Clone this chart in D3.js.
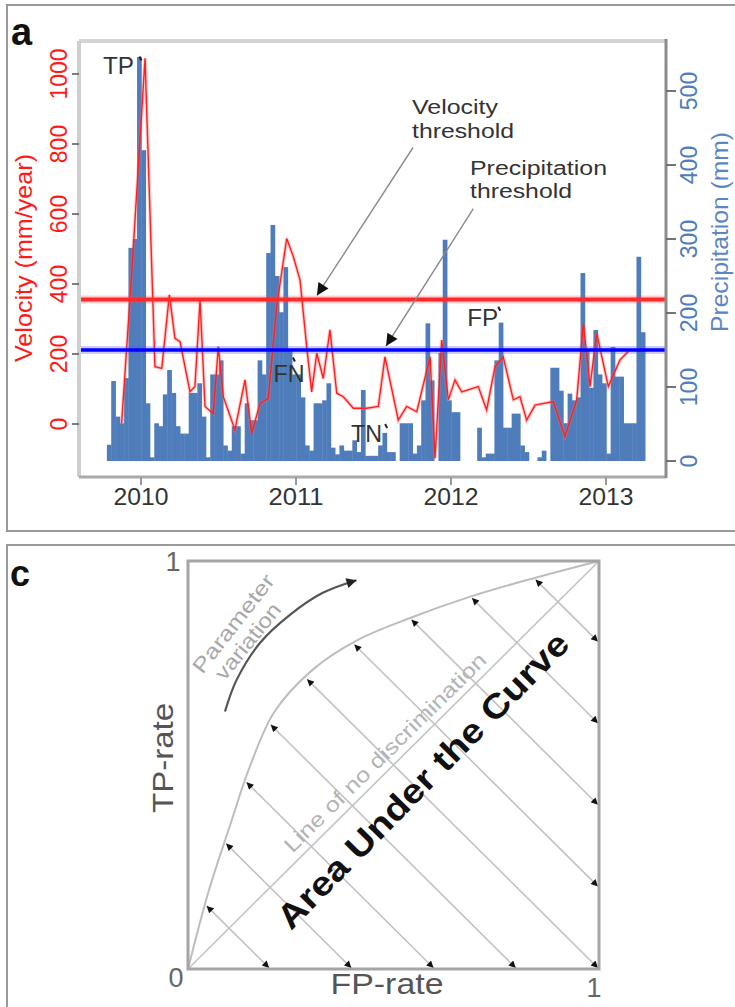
<!DOCTYPE html>
<html>
<head>
<meta charset="utf-8">
<script src="https://cdn.jsdelivr.net/npm/d3@7"></script>
<style>
  body { margin: 0; background: #fff; }
  text { font-family: "Liberation Sans", Arial, sans-serif; }
</style>
</head>
<body>
<svg id="fig" width="735" height="1007"></svg>
<script>
// ---- panel a data ----
// precipitation per dekad (mm), first dekad starts at precipStart
var precipStart = 2009.78;
var precip = [22,108,60,51,112,288,300,546,420,78,
  5,51,47,90,123,92,47,37,37,92,
  92,105,60,5,117,117,136,21,14,47,
  47,10,78,55,55,136,117,281,319,250,
  201,262,150,117,117,86,21,14,78,78,
  82,105,18,9,21,14,14,28,12,96,
  7,7,7,21,38,12,12,0,51,51,
  51,10,21,82,186,109,0,146,299,82,
  66,66,0,0,0,0,45,5,10,10,
  136,187,45,45,64,64,21,12,0,0,
  5,14,0,126,126,95,51,91,82,86,
  254,150,99,177,117,105,10,154,114,114,
  51,51,51,276,174];

var velDates = [2009.875,2009.940,2010.026,2010.090,2010.134,2010.183,2010.219,2010.252,2010.316,2010.348,
  2010.381,2010.413,2010.466,2010.499,2010.531,2010.606,2010.671,2010.714,2010.768,2010.821,
  2010.875,2010.940,2010.983,2011.026,2011.069,2011.101,2011.134,2011.176,2011.219,2011.263,
  2011.305,2011.370,2011.456,2011.531,2011.574,2011.660,2011.714,2011.779,2011.865,2011.897,
  2011.940,2011.983,2012.026,2012.069,2012.176,2012.230,2012.284,2012.337,2012.402,2012.445,
  2012.488,2012.542,2012.660,2012.735,2012.811,2012.854,2012.897,2012.940,2013.015,2013.090,
  2013.144];
var velValues = [2,430,1045,164,159,369,245,235,92,107,
  354,50,30,221,78,-17,126,-27,59,73,
  335,530,478,411,221,92,202,130,269,88,
  78,45,45,50,192,11,50,35,192,-98,
  240,69,126,92,107,40,164,192,69,78,
  11,54,64,-36,69,288,107,259,107,183,
  207];

var velThreshold = 356;
var precipThreshold = 150;
var velTicks = [0, 200, 400, 600, 800, 1000];
var precipTicks = [0, 100, 200, 300, 400, 500];
var yearTicks = [2010, 2011, 2012, 2013];

// ---- panel c data ----
var rocFP = [0, 0.05, 0.10, 0.15, 0.21, 0.305, 0.41, 0.545, 0.685, 0.82, 1];
var rocTP = [0, 0.19, 0.345, 0.495, 0.63, 0.735, 0.805, 0.862, 0.912, 0.952, 1];
var aucLevels = [0.2, 0.4, 0.6, 0.8, 1.0, 1.2, 1.4, 1.6, 1.8];
var rocTicks = ["0", "1"];

var svg = d3.select("#fig");
var defs = svg.append("defs");

defs.append("marker").attr("id", "bigHead")
  .attr("viewBox", "0 0 10 10").attr("refX", 10).attr("refY", 5)
  .attr("markerUnits", "userSpaceOnUse").attr("markerWidth", 16).attr("markerHeight", 12)
  .attr("orient", "auto")
  .append("path").attr("d", "M0,0 L10,5 L0,10 z").attr("fill", "#111");

defs.append("marker").attr("id", "smallHead")
  .attr("viewBox", "0 0 10 10").attr("refX", 10).attr("refY", 5)
  .attr("markerUnits", "userSpaceOnUse").attr("markerWidth", 9).attr("markerHeight", 7)
  .attr("orient", "auto-start-reverse")
  .append("path").attr("d", "M0,0 L10,5 L0,10 z").attr("fill", "#111");

defs.append("marker").attr("id", "arcHead")
  .attr("viewBox", "0 0 10 10").attr("refX", 10).attr("refY", 5)
  .attr("markerUnits", "userSpaceOnUse").attr("markerWidth", 14).attr("markerHeight", 10)
  .attr("orient", "auto")
  .append("path").attr("d", "M0,0 L10,5 L0,10 z").attr("fill", "#222");

// panel frames
svg.append("rect").attr("x", 7).attr("y", 5).attr("width", 760).attr("height", 526)
  .attr("fill", "none").attr("stroke", "#9a9a9a").attr("stroke-width", 2);
svg.append("rect").attr("x", 7).attr("y", 545).attr("width", 760).attr("height", 480)
  .attr("fill", "none").attr("stroke", "#9a9a9a").attr("stroke-width", 2);

svg.append("text").attr("x", 11).attr("y", 45).attr("font-size", 38)
  .attr("font-weight", "bold").attr("fill", "#111").text("a");
svg.append("text").attr("x", 10).attr("y", 586).attr("font-size", 36)
  .attr("font-weight", "bold").attr("fill", "#111").text("c");

// ===== panel a =====
var x = d3.scaleLinear().domain([2010, 2013]).range([141, 606]);
var yVel = d3.scaleLinear().domain([0, 1000]).range([424, 74]);
var yPre = d3.scaleLinear().domain([0, 500]).range([461, 91]);
var box = {l: 79, r: 666, t: 41, b: 477};
var dekad = 1 / 36;

var ga = svg.append("g");

// precipitation bars
ga.append("g").selectAll("rect").data(precip).join("rect")
  .attr("x", function(d, i) { return x(precipStart + i * dekad); })
  .attr("width", x(precipStart + dekad) - x(precipStart) + 0.4)
  .attr("y", function(d) { return yPre(d); })
  .attr("height", function(d) { return yPre(0) - yPre(d); })
  .attr("fill", "#4f7cba");

// velocity line
var velLine = d3.line()
  .x(function(d, i) { return x(velDates[i]); })
  .y(function(d) { return yVel(d); });
ga.append("path").datum(velValues).attr("d", velLine)
  .attr("fill", "none").attr("stroke", "#ff6b6b").attr("stroke-width", 3.5).attr("opacity", 0.35);
ga.append("path").datum(velValues).attr("d", velLine)
  .attr("fill", "none").attr("stroke", "#ff1f1f").attr("stroke-width", 1.4);

// thresholds
ga.append("line").attr("x1", box.l).attr("x2", box.r)
  .attr("y1", yVel(velThreshold)).attr("y2", yVel(velThreshold))
  .attr("stroke", "#ff4444").attr("stroke-width", 8).attr("opacity", 0.25);
ga.append("line").attr("x1", box.l).attr("x2", box.r)
  .attr("y1", yVel(velThreshold)).attr("y2", yVel(velThreshold))
  .attr("stroke", "#ff2a2a").attr("stroke-width", 4);
ga.append("line").attr("x1", box.l).attr("x2", box.r)
  .attr("y1", yPre(precipThreshold)).attr("y2", yPre(precipThreshold))
  .attr("stroke", "#5555ff").attr("stroke-width", 8).attr("opacity", 0.3);
ga.append("line").attr("x1", box.l).attr("x2", box.r)
  .attr("y1", yPre(precipThreshold)).attr("y2", yPre(precipThreshold))
  .attr("stroke", "#0000ff").attr("stroke-width", 3.5);

// box
ga.append("line").attr("x1", box.l).attr("x2", box.r).attr("y1", box.t).attr("y2", box.t)
  .attr("stroke", "#d4d4d4").attr("stroke-width", 4);
ga.append("line").attr("x1", box.l).attr("x2", box.l).attr("y1", box.t).attr("y2", box.b)
  .attr("stroke", "#cfcfcf").attr("stroke-width", 4);
ga.append("line").attr("x1", box.l).attr("x2", box.r).attr("y1", box.b).attr("y2", box.b)
  .attr("stroke", "#aaaaaa").attr("stroke-width", 3);
ga.append("line").attr("x1", box.r).attr("x2", box.r).attr("y1", box.t - 2).attr("y2", box.b + 1)
  .attr("stroke", "#8c8c8c").attr("stroke-width", 3);

// left axis (velocity)
ga.append("g").selectAll("line").data(velTicks).join("line")
  .attr("x1", box.l - 7).attr("x2", box.l).attr("y1", function(d) { return yVel(d); })
  .attr("y2", function(d) { return yVel(d); }).attr("stroke", "#555").attr("stroke-width", 1.5);
ga.append("g").selectAll("text").data(velTicks).join("text")
  .attr("transform", function(d) { return "translate(67," + yVel(d) + ") rotate(-90)"; })
  .attr("text-anchor", "middle").attr("font-size", 23).attr("fill", "#ff1a1a")
  .text(function(d) { return d; });
ga.append("text").attr("transform", "translate(32,258) rotate(-90)")
  .attr("text-anchor", "middle").attr("font-size", 24).attr("fill", "#ff1a1a")
  .attr("textLength", 208).attr("lengthAdjust", "spacingAndGlyphs")
  .text("Velocity (mm/year)");

// right axis (precipitation)
ga.append("g").selectAll("line").data(precipTicks).join("line")
  .attr("x1", box.r).attr("x2", box.r + 10).attr("y1", function(d) { return yPre(d); })
  .attr("y2", function(d) { return yPre(d); }).attr("stroke", "#666").attr("stroke-width", 1.8);
ga.append("g").selectAll("text").data(precipTicks).join("text")
  .attr("transform", function(d) { return "translate(697," + yPre(d) + ") rotate(-90)"; })
  .attr("text-anchor", "middle").attr("font-size", 23).attr("fill", "#4f7cba")
  .text(function(d) { return d; });
ga.append("text").attr("transform", "translate(728,232) rotate(-90)")
  .attr("text-anchor", "middle").attr("font-size", 24).attr("fill", "#5a86c4")
  .attr("textLength", 200).attr("lengthAdjust", "spacingAndGlyphs")
  .text("Precipitation (mm)");

// bottom axis (years)
ga.append("g").selectAll("line").data(yearTicks).join("line")
  .attr("x1", function(d) { return x(d); }).attr("x2", function(d) { return x(d); })
  .attr("y1", box.b).attr("y2", box.b + 8).attr("stroke", "#999").attr("stroke-width", 2);
ga.append("g").selectAll("text").data(yearTicks).join("text")
  .attr("x", function(d) { return x(d); }).attr("y", 505)
  .attr("text-anchor", "middle").attr("font-size", 23).attr("fill", "#333")
  .attr("textLength", 55).attr("lengthAdjust", "spacingAndGlyphs")
  .text(function(d) { return d; });

// event labels
var events = [
  {txt: "TP", t: 2009.755, v: 1000, mt: 2009.99, mv: 1050},
  {txt: "FN", t: 2010.855, v: 120, mt: 2010.98, mv: 190},
  {txt: "TN", t: 2011.355, v: -50, mt: 2011.575, mv: 0},
  {txt: "FP", t: 2012.105, v: 280, mt: 2012.305, mv: 335}
];
ga.append("g").selectAll("text").data(events).join("text")
  .attr("x", function(d) { return x(d.t); }).attr("y", function(d) { return yVel(d.v); })
  .attr("font-size", 23).attr("fill", "#333")
  .attr("textLength", 31).attr("lengthAdjust", "spacingAndGlyphs")
  .text(function(d) { return d.txt; });
ga.append("g").selectAll("line").data(events).join("line")
  .attr("x1", function(d) { return x(d.mt); }).attr("y1", function(d) { return yVel(d.mv); })
  .attr("x2", function(d) { return x(d.mt) + 2; }).attr("y2", function(d) { return yVel(d.mv) + 4; })
  .attr("stroke", "#222").attr("stroke-width", 2);

// threshold annotations
var annot = ga.append("g").attr("font-size", 20).attr("fill", "#333");
annot.append("text").attr("x", 412).attr("y", 114)
  .attr("textLength", 86).attr("lengthAdjust", "spacingAndGlyphs").text("Velocity");
annot.append("text").attr("x", 412).attr("y", 138)
  .attr("textLength", 102).attr("lengthAdjust", "spacingAndGlyphs").text("threshold");
annot.append("text").attr("x", 470).attr("y", 175)
  .attr("textLength", 137).attr("lengthAdjust", "spacingAndGlyphs").text("Precipitation");
annot.append("text").attr("x", 470).attr("y", 198)
  .attr("textLength", 102).attr("lengthAdjust", "spacingAndGlyphs").text("threshold");

ga.append("line")
  .attr("x1", x(2011.755)).attr("y1", yVel(790))
  .attr("x2", x(2011.135)).attr("y2", yVel(velThreshold) - 4)
  .attr("stroke", "#8a8a8a").attr("stroke-width", 1.4).attr("marker-end", "url(#bigHead)");
ga.append("line")
  .attr("x1", x(2012.144)).attr("y1", yPre(341))
  .attr("x2", x(2011.581)).attr("y2", yPre(precipThreshold) - 4)
  .attr("stroke", "#8a8a8a").attr("stroke-width", 1.4).attr("marker-end", "url(#bigHead)");

// ===== panel c =====
var fx = d3.scaleLinear().domain([0, 1]).range([188, 599]);
var fy = d3.scaleLinear().domain([0, 1]).range([969, 561]);
var gc = svg.append("g");

// diagonal
gc.append("line").attr("x1", fx(0)).attr("y1", fy(0)).attr("x2", fx(1)).attr("y2", fy(1))
  .attr("stroke", "#c4c4c4").attr("stroke-width", 1.6);

// ROC curve
var roc = rocFP.map(function(d, i) { return [d, rocTP[i]]; });
gc.append("path").datum(roc)
  .attr("d", d3.line().x(function(d) { return fx(d[0]); }).y(function(d) { return fy(d[1]); })
    .curve(d3.curveCatmullRom.alpha(0.5)))
  .attr("fill", "none").attr("stroke", "#bdbdbd").attr("stroke-width", 2);

// AUC arrows: lines FP+TP = c from the curve to the border
function curveHit(c) {
  for (var i = 0; i < roc.length - 1; i++) {
    var s0 = roc[i][0] + roc[i][1], s1 = roc[i + 1][0] + roc[i + 1][1];
    if (c >= s0 && c <= s1) {
      var f = (c - s0) / (s1 - s0);
      return [roc[i][0] + f * (roc[i + 1][0] - roc[i][0]), roc[i][1] + f * (roc[i + 1][1] - roc[i][1])];
    }
  }
  return roc[roc.length - 1];
}
gc.append("g").selectAll("line").data(aucLevels).join("line")
  .each(function(c) {
    var p = curveHit(c);
    var q = c <= 1 ? [c, 0] : [1, c - 1];
    d3.select(this)
      .attr("x1", fx(p[0]) + 1.5).attr("y1", fy(p[1]) + 1.5)
      .attr("x2", fx(q[0]) - 1).attr("y2", fy(q[1]) - 1);
  })
  .attr("stroke", "#c2c2c2").attr("stroke-width", 1.6)
  .attr("marker-start", "url(#smallHead)").attr("marker-end", "url(#smallHead)");

// box
gc.append("rect").attr("x", fx(0)).attr("y", fy(1)).attr("width", fx(1) - fx(0)).attr("height", fy(0) - fy(1))
  .attr("fill", "none").attr("stroke", "#a5a5a5").attr("stroke-width", 3);

// parameter variation arc
var arcPts = [[0.090, 0.631], [0.118, 0.708], [0.175, 0.799], [0.248, 0.868], [0.328, 0.922], [0.410, 0.953]];
gc.append("path").datum(arcPts)
  .attr("d", d3.line().x(function(d) { return fx(d[0]); }).y(function(d) { return fy(d[1]); })
    .curve(d3.curveCatmullRom))
  .attr("fill", "none").attr("stroke", "#555").attr("stroke-width", 2.2)
  .attr("marker-end", "url(#arcHead)");

function rotText(g, fxv, fyv, ang, txt, size, len, fill, weight) {
  return g.append("text")
    .attr("transform", "translate(" + fx(fxv) + "," + fy(fyv) + ") rotate(" + ang + ")")
    .attr("text-anchor", "middle").attr("dominant-baseline", "central")
    .attr("font-size", size).attr("fill", fill).attr("font-weight", weight || "normal")
    .attr("textLength", len).attr("lengthAdjust", "spacingAndGlyphs")
    .text(txt);
}
rotText(gc, 0.110, 0.847, -52, "Parameter", 21, 119, "#a8a8a8");
rotText(gc, 0.145, 0.804, -51, "variation", 21, 92, "#a8a8a8");
rotText(gc, 0.479, 0.531, -44.5, "Line of no discrimination", 21, 274, "#b3b3b3");
rotText(gc, 0.571, 0.463, -45.5, "Area Under the Curve", 34, 400, "#111", "bold");

// axis labels
gc.append("text").attr("x", 173).attr("y", 571).attr("text-anchor", "middle")
  .attr("font-size", 27).attr("fill", "#666").text(rocTicks[1]);
gc.append("text").attr("x", 176).attr("y", 987).attr("text-anchor", "middle")
  .attr("font-size", 27).attr("fill", "#666").text(rocTicks[0]);
gc.append("text").attr("x", 594).attr("y", 997).attr("text-anchor", "middle")
  .attr("font-size", 27).attr("fill", "#666").text(rocTicks[1]);
gc.append("text").attr("x", 387).attr("y", 994).attr("text-anchor", "middle")
  .attr("font-size", 30).attr("fill", "#555")
  .attr("textLength", 113).attr("lengthAdjust", "spacingAndGlyphs").text("FP-rate");
gc.append("text").attr("transform", "translate(173,758) rotate(-90)").attr("text-anchor", "middle")
  .attr("font-size", 30).attr("fill", "#555")
  .attr("textLength", 110).attr("lengthAdjust", "spacingAndGlyphs").text("TP-rate");
</script>
</body>
</html>
